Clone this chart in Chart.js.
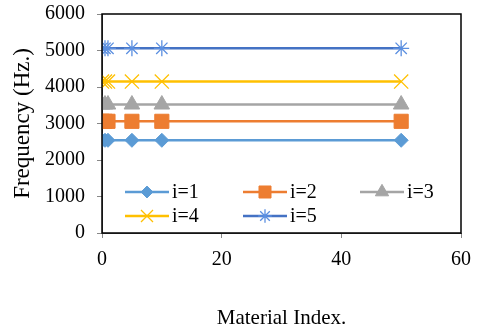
<!DOCTYPE html>
<html>
<head>
<meta charset="utf-8">
<script src="https://cdn.jsdelivr.net/npm/chart.js@4/dist/chart.umd.min.js"></script>
<style>
  html, body { margin: 0; padding: 0; background: #fff; }
  #wrap { width: 480px; height: 335px; }
</style>
</head>
<body>
<div id="wrap"><canvas id="freqChart"></canvas></div>
<script>
// data
const materialIndex = [0, 0.5, 1, 5, 10, 50];
const freqI1 = [2540, 2540, 2540, 2540, 2540, 2540];
const freqI2 = [3060, 3060, 3060, 3060, 3060, 3060];
const freqI3 = [3520, 3520, 3520, 3520, 3520, 3520];
const freqI4 = [4150, 4150, 4150, 4150, 4150, 4150];
const freqI5 = [5060, 5060, 5060, 5060, 5060, 5060];
const seriesLabels = ['i=1', 'i=2', 'i=3', 'i=4', 'i=5'];
const xTicks = [0, 20, 40, 60];
const yTicks = [0, 1000, 2000, 3000, 4000, 5000, 6000];

const FONT = '"Liberation Serif", "Times New Roman", serif';

function pts(ys) {
  return materialIndex.map((x, i) => ({ x: x, y: ys[i] }));
}

const styles = [
  { color: '#5B9BD5', point: 'rectRot', r: 7 },
  { color: '#ED7D31', point: 'rect', r: 10 },
  { color: '#A5A5A5', point: 'triangle', r: 9 },
  { color: '#FFC000', point: 'crossRot', r: 10 },
  { color: '#4472C4', point: 'star', r: 8 }
];
const allSeries = [freqI1, freqI2, freqI3, freqI4, freqI5];

const datasets = allSeries.map((ys, k) => {
  const s = styles[k];
  const cross = s.point === 'crossRot' || s.point === 'star';
  return {
    label: seriesLabels[k],
    data: pts(ys),
    borderColor: s.color,
    backgroundColor: s.color,
    borderWidth: 2.5,
    pointStyle: s.point,
    pointRadius: s.r,
    pointBackgroundColor: s.color,
    pointBorderColor: k === 4 ? '#5B8FE0' : s.color,
    pointBorderWidth: cross ? 1.3 : 1,
    tension: 0
  };
});

// legend drawn inside the plot, two rows
const insideLegend = {
  id: 'insideLegend',
  afterDatasetsDraw(chart) {
    const ctx = chart.ctx;
    const a = chart.chartArea;
    const cols = [a.left + 23, a.left + 141, a.left + 258];
    const rows = [a.top + 178, a.top + 202];
    ctx.save();
    chart.data.datasets.forEach((ds, i) => {
      const x = cols[i % 3];
      const y = rows[Math.floor(i / 3)];
      ctx.strokeStyle = ds.borderColor;
      ctx.lineWidth = 2.5;
      ctx.beginPath();
      ctx.moveTo(x, y);
      ctx.lineTo(x + 44, y);
      ctx.stroke();
      ctx.fillStyle = ds.pointBackgroundColor;
      ctx.strokeStyle = ds.pointBorderColor;
      ctx.lineWidth = ds.pointBorderWidth;
      Chart.helpers.drawPoint(ctx, { pointStyle: ds.pointStyle, radius: ds.pointRadius * 0.85, borderWidth: ds.pointBorderWidth }, x + 22, y);
      ctx.fillStyle = '#000';
      ctx.font = '20px ' + FONT;
      ctx.textBaseline = 'middle';
      ctx.textAlign = 'left';
      ctx.fillText(ds.label, x + 47, y + 1);
    });
    ctx.restore();
  }
};

const frame = {
  id: 'frame',
  afterDraw(chart) {
    const ctx = chart.ctx;
    const a = chart.chartArea;
    ctx.save();
    ctx.strokeStyle = '#000';
    ctx.lineWidth = 1.5;
    ctx.strokeRect(a.left, a.top, a.right - a.left, a.bottom - a.top);
    ctx.restore();
  }
};

new Chart(document.getElementById('freqChart'), {
  type: 'scatter',
  data: { datasets: datasets },
  options: {
    responsive: true,
    maintainAspectRatio: false,
    animation: false,
    showLine: true,
    layout: { padding: { top: 14, right: 19, left: 9, bottom: 0 } },
    plugins: { legend: { display: false }, tooltip: { enabled: false } },
    scales: {
      x: {
        type: 'linear',
        min: 0, max: 60,
        afterBuildTicks: (axis) => { axis.ticks = xTicks.map(v => ({ value: v })); },
        afterFit: (axis) => { axis.height = 102; axis.paddingLeft = 0; axis.paddingRight = 0; },
        grid: { drawOnChartArea: false, drawTicks: true, tickLength: 5, color: '#888' },
        border: { display: true, color: '#555', width: 1 },
        ticks: { color: '#000', font: { family: FONT, size: 20 }, padding: 10, callback: (v) => String(v) },
        title: { display: true, text: 'Material Index.', color: '#000', font: { family: FONT, size: 21 }, padding: { top: 32 } }
      },
      y: {
        type: 'linear',
        min: 0, max: 6000,
        afterBuildTicks: (axis) => { axis.ticks = yTicks.map(v => ({ value: v })); },
        afterFit: (axis) => { axis.width = 93; axis.paddingTop = 0; axis.paddingBottom = 0; },
        grid: { drawOnChartArea: false, drawTicks: true, tickLength: 5, color: '#888' },
        border: { display: true, color: '#555', width: 1 },
        ticks: { color: '#000', font: { family: FONT, size: 20 }, padding: 12, callback: (v) => String(v) },
        title: { display: true, text: 'Frequency (Hz.)', color: '#000', font: { family: FONT, size: 23 }, padding: 0 }
      }
    }
  },
  plugins: [insideLegend, frame]
});
</script>
</body>
</html>
